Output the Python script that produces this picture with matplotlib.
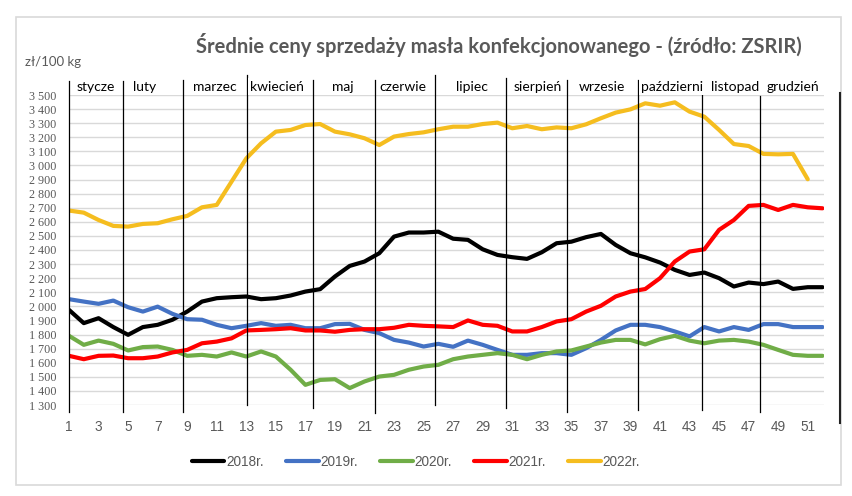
import matplotlib
matplotlib.use("Agg")
import matplotlib.pyplot as plt
from matplotlib.lines import Line2D
from matplotlib.patches import Rectangle

# weekly average prices, zł/100 kg
weeks = list(range(1, 53))

p2018 = [1975, 1881, 1916, 1853, 1798, 1853, 1869, 1905, 1963, 2034,
         2058, 2065, 2070, 2051, 2058, 2077, 2105, 2122, 2212, 2287,
         2318, 2377, 2495, 2524, 2524, 2530, 2480, 2472, 2405, 2365,
         2349, 2337, 2384, 2448, 2459, 2491, 2514, 2436, 2377, 2348,
         2311, 2259, 2223, 2240, 2200, 2141, 2169, 2158, 2176, 2124,
         2136, 2136]
p2019 = [2051, 2034, 2018, 2041, 1994, 1963, 1998, 1947, 1909, 1905,
         1869, 1845, 1862, 1881, 1862, 1869, 1845, 1845, 1874, 1876,
         1833, 1810, 1762, 1743, 1715, 1734, 1713, 1757, 1727, 1691,
         1656, 1656, 1668, 1668, 1656, 1703, 1762, 1829, 1869, 1869,
         1853, 1822, 1787, 1853, 1822, 1853, 1833, 1874, 1874, 1853,
         1853, 1853]
p2020 = [1791, 1727, 1757, 1734, 1687, 1711, 1715, 1691, 1649, 1656,
         1644, 1673, 1644, 1680, 1644, 1550, 1443, 1478, 1483, 1420,
         1467, 1502, 1514, 1550, 1573, 1585, 1625, 1644, 1656, 1668,
         1656, 1625, 1656, 1680, 1687, 1715, 1743, 1762, 1762, 1730,
         1767, 1791, 1757, 1738, 1757, 1762, 1750, 1727, 1691, 1656,
         1649, 1649]
p2021 = [1649, 1625, 1649, 1651, 1632, 1632, 1644, 1673, 1691, 1738,
         1750, 1773, 1829, 1833, 1838, 1845, 1829, 1829, 1820, 1833,
         1838, 1838, 1848, 1869, 1862, 1858, 1853, 1900, 1869, 1862,
         1822, 1822, 1853, 1893, 1909, 1963, 2004, 2070, 2105, 2123,
         2200, 2318, 2389, 2405, 2543, 2613, 2713, 2720, 2684, 2720,
         2703, 2696]
p2022 = [2680, 2665, 2613, 2571, 2566, 2585, 2590, 2618, 2642, 2703,
         2720, 2885, 3050, 3157, 3240, 3252, 3287, 3294, 3240, 3221,
         3193, 3145, 3205, 3223, 3235, 3257, 3275, 3275, 3294, 3304,
         3264, 3280, 3257, 3270, 3264, 3292, 3335, 3375, 3398, 3441,
         3424, 3448, 3382, 3346, 3252, 3152, 3138, 3082, 3079, 3082,
         2902]

series_labels = ["2018r.", "2019r.", "2020r.", "2021r.", "2022r."]
series_values = [p2018, p2019, p2020, p2021, p2022]
series_colors = ["#000000", "#4472C4", "#70AD47", "#FF0000", "#F5BD1F"]

# month dividers (week position) and month labels (week position of label)
month_names = ["stycze", "luty", "marzec", "kwiecień", "maj", "czerwie",
               "lipiec", "sierpień", "wrzesie", "październi", "listopad", "grudzień"]
month_label_pos = [2.8, 6.1, 10.9, 15.1, 19.5, 23.6, 28.3, 32.7, 37.1, 41.8, 46.1, 50.0]
month_lines = [1.0, 4.63, 8.73, 13.05, 17.5, 21.7, 25.8, 30.6, 34.7, 39.5, 43.85, 47.8]
line_top = [3600, 3600, 3610, 3640, 3610, 3610, 3640, 3620, 3610, 3610, 3500, 3490]
line_bot = [1250, 1250, 1250, 1300, 1280, 1245, 1300, 1280, 1250, 1265, 1265, 1250]

W, H = 852, 496
fig = plt.figure(figsize=(W / 100, H / 100), dpi=100)
fig.patch.set_facecolor("white")

# outer chart frame
fig.add_artist(Rectangle((16 / W, 1 - 485 / H), (841 - 16) / W, (485 - 17) / H,
                         transform=fig.transFigure, fill=False,
                         edgecolor="#d9d9d9", linewidth=1.2))

ax = fig.add_axes([69 / W, 1 - 405 / H, (824 - 69) / W, (405 - 95) / H])
ax.set_xlim(1, 52.1)
ax.set_ylim(1300, 3500)

for vals, lab, col in zip(series_values, series_labels, series_colors):
    ax.plot(weeks[:len(vals)], vals, color=col, lw=3.0, label=lab,
            solid_joinstyle="round", solid_capstyle="round", zorder=3)

# horizontal gridlines
ax.set_yticks(range(1300, 3501, 100))
ax.yaxis.grid(True, color="#d9d9d9", lw=1.0, zorder=0)
ax.set_yticklabels([f"{v // 1000} {v % 1000:03d}" for v in range(1300, 3501, 100)],
                   family="Liberation Serif", fontsize=8.7, color="#595959")
ax.set_xticks(range(1, 52, 2))
ax.set_xticklabels([str(w) for w in range(1, 52, 2)],
                   family="Liberation Sans", fontsize=9.8, color="#595959")
ax.tick_params(axis="both", length=0)
ax.tick_params(axis="x", pad=11)
ax.tick_params(axis="y", pad=9)
for s in ax.spines.values():
    s.set_visible(False)

# month divider lines
for x, t, b in zip(month_lines, line_top, line_bot):
    ax.plot([x, x], [b, t], color="black", lw=0.9, clip_on=False, zorder=5)

for name, x in zip(month_names, month_label_pos):
    ax.text(x, 3560, name, ha="center", va="center", family="Lato",
            fontsize=10, color="black", zorder=6,
            bbox=dict(facecolor="white", edgecolor="none", pad=1.5))

# right edge line
fig.add_artist(Line2D([840 / W, 840 / W], [1 - 423 / H, 1 - 93 / H],
                      transform=fig.transFigure, color="#222222", lw=1.5))

fig.text(499 / W, 1 - 45 / H,
         "Średnie ceny sprzedaży masła konfekcjonowanego - (źródło: ZSRIR)",
         ha="center", va="center", family="Lato", fontweight="bold",
         fontsize=14.5, color="#595959")
fig.text(25 / W, 1 - 62 / H, "zł/100 kg", ha="left", va="center",
         family="Lato", fontsize=9.5, color="#595959")

fig.legend(loc="center", bbox_to_anchor=(416 / W, 1 - 462 / H), ncol=5,
           frameon=False, handlelength=2.4, handletextpad=0.15,
           columnspacing=1.6, prop={"family": "Liberation Sans", "size": 9.8},
           labelcolor="#595959")

fig.savefig("out.png", dpi=100)
